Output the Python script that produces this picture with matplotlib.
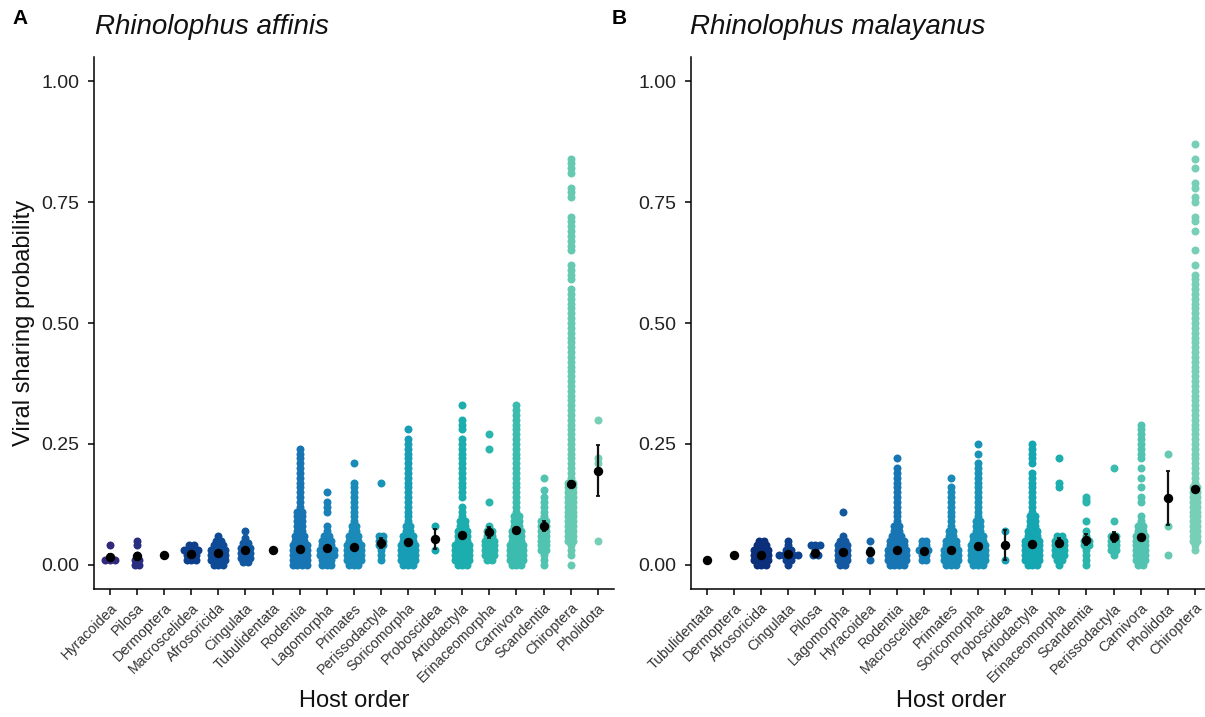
import matplotlib
matplotlib.use("Agg")
import matplotlib.pyplot as plt

# ---------------- data ----------------
affinis_orders = ["Hyracoidea", "Pilosa", "Dermoptera", "Macroscelidea", "Afrosoricida",
                  "Cingulata", "Tubulidentata", "Rodentia", "Lagomorpha", "Primates",
                  "Perissodactyla", "Soricomorpha", "Proboscidea", "Artiodactyla",
                  "Erinaceomorpha", "Carnivora", "Scandentia", "Chiroptera", "Pholidota"]
affinis_means = [0.016, 0.018, 0.02, 0.022, 0.025, 0.03, 0.03, 0.032, 0.035, 0.037,
                 0.045, 0.048, 0.054, 0.062, 0.067, 0.071, 0.08, 0.168, 0.195]
affinis_errs = [0.006, 0.007, 0.0, 0.002, 0.002, 0.003, 0.0, 0.001, 0.002, 0.002,
                0.011, 0.002, 0.021, 0.003, 0.012, 0.003, 0.01, 0.005, 0.053]

malayanus_orders = ["Tubulidentata", "Dermoptera", "Afrosoricida", "Cingulata", "Pilosa",
                    "Lagomorpha", "Hyracoidea", "Rodentia", "Macroscelidea", "Primates",
                    "Soricomorpha", "Proboscidea", "Artiodactyla", "Erinaceomorpha",
                    "Scandentia", "Perissodactyla", "Carnivora", "Pholidota", "Chiroptera"]
malayanus_means = [0.01, 0.02, 0.02, 0.022, 0.025, 0.027, 0.027, 0.03, 0.028, 0.03,
                   0.038, 0.04, 0.043, 0.046, 0.052, 0.057, 0.057, 0.138, 0.156]
malayanus_errs = [0.0, 0.0, 0.001, 0.002, 0.003, 0.003, 0.008, 0.001, 0.003, 0.002,
                  0.002, 0.031, 0.002, 0.009, 0.012, 0.01, 0.002, 0.055, 0.004]

# colour by position along the axis (dark navy -> aquamarine)
position_colors = ["#30297c", "#2a2e80", "#0c2f7c", "#0d3f8d", "#0e4a96", "#1259a2",
                   "#1566aa", "#1775b4", "#1980b8", "#1a8bb9", "#1994b8", "#179db5",
                   "#14a6b1", "#1caeae", "#2ab5ad", "#3cbcae", "#52c3b0", "#66c9b2",
                   "#76cfb6"]

# individual sharing probabilities: (value, number of dots at that value)
a_hyracoidea = [(0.04, 1), (0.01, 3)]
a_pilosa = [(0.05, 1), (0.04, 1), (0.02, 1), (0.01, 2), (0.0, 2)]
a_dermoptera = [(0.02, 1)]
a_macroscelidea = [(0.04, 2), (0.03, 4), (0.02, 3), (0.01, 3)]
a_afrosoricida = [(0.06, 1), (0.05, 2), (0.04, 3), (0.03, 4), (0.02, 4), (0.01, 4), (0.0, 3)]
a_cingulata = [(0.07, 1), (0.055, 1), (0.045, 2), (0.035, 3), (0.025, 3), (0.015, 3), (0.005, 2)]
a_tubulidentata = [(0.03, 1)]
a_rodentia = [(0.24, 1), (0.23, 1), (0.22, 1), (0.21, 1), (0.20, 1), (0.19, 1), (0.18, 1),
              (0.17, 1), (0.16, 1), (0.15, 1), (0.14, 1), (0.13, 1), (0.12, 1), (0.11, 2),
              (0.10, 2), (0.09, 2), (0.08, 2), (0.07, 2), (0.06, 3), (0.05, 3), (0.04, 4),
              (0.03, 4), (0.02, 4), (0.01, 4), (0.0, 4)]
a_lagomorpha = [(0.15, 1), (0.13, 1), (0.12, 1), (0.11, 1), (0.08, 1), (0.07, 1), (0.06, 2),
                (0.05, 3), (0.04, 3), (0.03, 4), (0.02, 4), (0.01, 3), (0.0, 3)]
a_primates = [(0.21, 1), (0.17, 1), (0.16, 1), (0.15, 1), (0.14, 1), (0.13, 1), (0.12, 1),
              (0.11, 1), (0.10, 1), (0.09, 1), (0.08, 2), (0.07, 2), (0.06, 3), (0.05, 3),
              (0.04, 4), (0.03, 4), (0.02, 4), (0.01, 4), (0.0, 3)]
a_perissodactyla = [(0.17, 1), (0.06, 2), (0.05, 2), (0.04, 2), (0.03, 1), (0.02, 1), (0.01, 1)]
a_soricomorpha = [(0.28, 1), (0.26, 1), (0.25, 1), (0.24, 1), (0.23, 1), (0.22, 1), (0.21, 1),
                  (0.20, 1), (0.19, 1), (0.18, 1), (0.17, 1), (0.16, 1), (0.15, 1), (0.14, 1),
                  (0.13, 1), (0.12, 1), (0.11, 1), (0.10, 1), (0.09, 1), (0.08, 2), (0.07, 2),
                  (0.06, 3), (0.05, 3), (0.04, 4), (0.03, 4), (0.02, 4), (0.01, 4), (0.0, 3)]
a_proboscidea = [(0.08, 1), (0.03, 1)]
a_artiodactyla = [(0.33, 1), (0.30, 1), (0.29, 1), (0.28, 1), (0.26, 1), (0.25, 1), (0.24, 1),
                  (0.23, 1), (0.22, 1), (0.21, 1), (0.20, 1), (0.19, 1), (0.18, 1), (0.17, 1),
                  (0.16, 1), (0.15, 1), (0.14, 1), (0.12, 1), (0.11, 1), (0.10, 1), (0.09, 2),
                  (0.08, 2), (0.07, 3), (0.06, 3), (0.05, 3), (0.04, 4), (0.03, 4), (0.02, 4),
                  (0.01, 4), (0.0, 3)]
a_erinaceomorpha = [(0.27, 1), (0.24, 1), (0.13, 1), (0.08, 1), (0.07, 2), (0.06, 2), (0.05, 3),
                    (0.04, 3), (0.03, 3), (0.02, 3), (0.01, 2)]
a_carnivora = [(0.33, 1), (0.32, 1), (0.31, 1), (0.30, 1), (0.29, 1), (0.28, 1), (0.27, 1),
               (0.26, 1), (0.25, 1), (0.24, 1), (0.23, 1), (0.22, 1), (0.21, 1), (0.20, 1),
               (0.19, 1), (0.18, 1), (0.17, 1), (0.16, 1), (0.15, 1), (0.14, 1), (0.13, 1),
               (0.12, 1), (0.11, 1), (0.10, 2), (0.09, 2), (0.08, 2), (0.07, 3), (0.06, 3),
               (0.05, 3), (0.04, 4), (0.03, 4), (0.02, 4), (0.01, 4), (0.0, 3)]
a_scandentia = [(0.18, 1), (0.155, 1), (0.14, 1), (0.13, 1), (0.12, 1), (0.11, 1), (0.10, 1),
                (0.09, 2), (0.08, 2), (0.07, 2), (0.06, 2), (0.05, 2), (0.04, 2), (0.03, 2),
                (0.02, 1), (0.01, 1), (0.0, 1)]
a_chiroptera = [(0.84, 1), (0.83, 1), (0.82, 1), (0.81, 1), (0.78, 1), (0.77, 1), (0.76, 1),
                (0.72, 1), (0.71, 1), (0.70, 1), (0.69, 1), (0.68, 1), (0.67, 1), (0.66, 1),
                (0.65, 1), (0.62, 1), (0.61, 1), (0.60, 1), (0.59, 1), (0.57, 1), (0.56, 1),
                (0.55, 1), (0.54, 1), (0.53, 1), (0.52, 1), (0.51, 1), (0.50, 1), (0.49, 1),
                (0.48, 1), (0.47, 1), (0.46, 1), (0.45, 1), (0.44, 1), (0.43, 1), (0.42, 1),
                (0.41, 1), (0.40, 1), (0.39, 1), (0.38, 1), (0.37, 1), (0.36, 1), (0.35, 1),
                (0.34, 1), (0.33, 1), (0.32, 1), (0.31, 1), (0.30, 1), (0.29, 1), (0.28, 1),
                (0.27, 1), (0.26, 1), (0.25, 1), (0.24, 1), (0.23, 1), (0.22, 1), (0.21, 1),
                (0.20, 1), (0.19, 1), (0.18, 1), (0.17, 2), (0.16, 2), (0.15, 2), (0.14, 2),
                (0.13, 2), (0.12, 2), (0.11, 2), (0.10, 2), (0.09, 2), (0.08, 2), (0.07, 2),
                (0.06, 2), (0.05, 2), (0.04, 1), (0.03, 1), (0.02, 1), (0.0, 1)]
a_pholidota = [(0.30, 1), (0.22, 1), (0.21, 1), (0.05, 1)]

b_tubulidentata = [(0.01, 1)]
b_dermoptera = [(0.02, 1)]
b_afrosoricida = [(0.05, 2), (0.04, 3), (0.03, 4), (0.02, 4), (0.01, 4), (0.0, 3)]
b_cingulata = [(0.05, 1), (0.04, 1), (0.03, 2), (0.02, 5), (0.01, 2), (0.0, 1)]
b_pilosa = [(0.04, 3), (0.03, 1), (0.02, 2)]
b_lagomorpha = [(0.11, 1), (0.06, 1), (0.05, 2), (0.04, 3), (0.03, 3), (0.02, 3), (0.01, 3), (0.0, 2)]
b_hyracoidea = [(0.05, 1), (0.03, 1), (0.01, 1)]
b_rodentia = [(0.22, 1), (0.20, 1), (0.19, 1), (0.18, 1), (0.17, 1), (0.16, 1), (0.15, 1),
              (0.14, 1), (0.13, 1), (0.12, 1), (0.11, 1), (0.10, 1), (0.09, 1), (0.08, 2),
              (0.07, 2), (0.06, 3), (0.05, 4), (0.04, 4), (0.03, 5), (0.02, 5), (0.01, 5), (0.0, 4)]
b_macroscelidea = [(0.05, 2), (0.04, 2), (0.03, 3), (0.02, 2), (0.01, 2)]
b_primates = [(0.18, 1), (0.16, 1), (0.15, 1), (0.14, 1), (0.13, 1), (0.12, 1), (0.11, 1),
              (0.10, 1), (0.09, 1), (0.08, 1), (0.07, 2), (0.06, 2), (0.05, 3), (0.04, 3),
              (0.03, 4), (0.02, 4), (0.01, 4), (0.0, 3)]
b_soricomorpha = [(0.25, 1), (0.23, 1), (0.21, 1), (0.20, 1), (0.19, 1), (0.18, 1), (0.17, 1),
                  (0.16, 1), (0.15, 1), (0.14, 1), (0.13, 1), (0.12, 1), (0.11, 1), (0.10, 1),
                  (0.09, 2), (0.08, 2), (0.07, 2), (0.06, 3), (0.05, 3), (0.04, 4), (0.03, 4),
                  (0.02, 4), (0.01, 4), (0.0, 3)]
b_proboscidea = [(0.07, 1), (0.04, 1), (0.01, 1)]
b_artiodactyla = [(0.25, 1), (0.24, 1), (0.23, 1), (0.22, 1), (0.21, 1), (0.19, 1), (0.18, 1),
                  (0.17, 1), (0.16, 1), (0.15, 1), (0.14, 1), (0.13, 1), (0.12, 1), (0.11, 1),
                  (0.10, 2), (0.09, 2), (0.08, 2), (0.07, 3), (0.06, 3), (0.05, 4), (0.04, 4),
                  (0.03, 4), (0.02, 4), (0.01, 4), (0.0, 3)]
b_erinaceomorpha = [(0.22, 1), (0.17, 1), (0.16, 1), (0.06, 2), (0.05, 3), (0.04, 3), (0.03, 3),
                    (0.02, 3), (0.01, 2), (0.0, 1)]
b_scandentia = [(0.14, 1), (0.135, 1), (0.13, 1), (0.09, 1), (0.07, 1), (0.06, 1), (0.05, 2),
                (0.04, 2), (0.03, 1), (0.02, 1), (0.01, 1), (0.0, 1)]
b_perissodactyla = [(0.20, 1), (0.09, 1), (0.06, 2), (0.05, 2), (0.04, 2), (0.03, 2), (0.02, 1)]
b_carnivora = [(0.29, 1), (0.28, 1), (0.27, 1), (0.26, 1), (0.25, 1), (0.24, 1), (0.23, 1),
               (0.22, 1), (0.20, 1), (0.18, 1), (0.16, 1), (0.14, 1), (0.13, 1), (0.10, 1),
               (0.09, 1), (0.08, 2), (0.07, 2), (0.06, 3), (0.05, 3), (0.04, 3), (0.03, 3),
               (0.02, 3), (0.01, 3), (0.0, 2)]
b_pholidota = [(0.23, 1), (0.08, 1), (0.02, 1)]
b_chiroptera = [(0.87, 1), (0.84, 1), (0.82, 1), (0.79, 1), (0.78, 1), (0.76, 1), (0.75, 1),
                (0.72, 1), (0.71, 1), (0.69, 1), (0.65, 1), (0.62, 1), (0.60, 1), (0.59, 1),
                (0.58, 1), (0.57, 1), (0.56, 1), (0.55, 1), (0.54, 1), (0.53, 1), (0.52, 1),
                (0.51, 1), (0.50, 1), (0.49, 1), (0.48, 1), (0.47, 1), (0.46, 1), (0.45, 1),
                (0.44, 1), (0.43, 1), (0.42, 1), (0.41, 1), (0.40, 1), (0.39, 1), (0.38, 1),
                (0.37, 1), (0.36, 1), (0.35, 1), (0.34, 1), (0.33, 1), (0.32, 1), (0.31, 1),
                (0.30, 1), (0.29, 1), (0.28, 1), (0.27, 1), (0.26, 1), (0.25, 1), (0.24, 1),
                (0.23, 1), (0.22, 1), (0.21, 1), (0.20, 1), (0.19, 1), (0.18, 1), (0.17, 1),
                (0.16, 2), (0.15, 2), (0.14, 2), (0.13, 2), (0.12, 2), (0.11, 2), (0.10, 2),
                (0.09, 2), (0.08, 2), (0.07, 2), (0.06, 2), (0.05, 2), (0.04, 1), (0.03, 1)]

affinis_points = [a_hyracoidea, a_pilosa, a_dermoptera, a_macroscelidea, a_afrosoricida,
                  a_cingulata, a_tubulidentata, a_rodentia, a_lagomorpha, a_primates,
                  a_perissodactyla, a_soricomorpha, a_proboscidea, a_artiodactyla,
                  a_erinaceomorpha, a_carnivora, a_scandentia, a_chiroptera, a_pholidota]
malayanus_points = [b_tubulidentata, b_dermoptera, b_afrosoricida, b_cingulata, b_pilosa,
                    b_lagomorpha, b_hyracoidea, b_rodentia, b_macroscelidea, b_primates,
                    b_soricomorpha, b_proboscidea, b_artiodactyla, b_erinaceomorpha,
                    b_scandentia, b_perissodactyla, b_carnivora, b_pholidota, b_chiroptera]

# ---------------- style ----------------
plt.rcParams['font.family'] = ['Liberation Sans', 'DejaVu Sans']
W, H, DPI = 1205, 717, 100
fig = plt.figure(figsize=(W / DPI, H / DPI), dpi=DPI)

ax_w = 0.4318
ax_b, ax_h = 0.1785, 0.742
XLIM = (-0.6, 18.6)
DOT_GAP_PX = 4.6
gap = DOT_GAP_PX * (XLIM[1] - XLIM[0]) / (W * ax_w)


def draw_panel(ax, orders, points, means, errs):
    for i, rows in enumerate(points):
        xs, ys = [], []
        for v, n in rows:
            for k in range(n):
                xs.append(i + (k - (n - 1) / 2) * gap)
                ys.append(v)
        ax.scatter(xs, ys, s=33, color=position_colors[i], linewidths=0, zorder=2)
    xi = list(range(len(orders)))
    ax.errorbar(xi, means, yerr=errs, fmt='none', ecolor='#111111', elinewidth=1.6,
                capsize=1.5, capthick=1.3, zorder=3)
    ax.scatter(xi, means, s=46, color='black', linewidths=0, zorder=4)
    ax.set_xlim(*XLIM)
    ax.set_ylim(-0.05, 1.05)
    ax.set_xticks(xi)
    ax.set_xticklabels(orders, rotation=45, ha='right', rotation_mode='anchor',
                       fontsize=10.3, color='#333333')
    ax.set_yticks([0, 0.25, 0.5, 0.75, 1.0])
    ax.set_yticklabels(["0.00", "0.25", "0.50", "0.75", "1.00"], fontsize=14, color='#222222')
    for s in ['top', 'right']:
        ax.spines[s].set_visible(False)
    for s in ['left', 'bottom']:
        ax.spines[s].set_linewidth(1.1)
    ax.tick_params(axis='both', length=4.5, width=1.1, color='black')
    ax.tick_params(axis='x', pad=4)
    ax.tick_params(axis='y', pad=6)
    ax.set_xlabel("Host order", fontsize=17, color='#111111')
    ax.xaxis.set_label_coords(0.5, -0.19)


axA = fig.add_axes([93.7 / W, ax_b, ax_w, ax_h])
draw_panel(axA, affinis_orders, affinis_points, affinis_means, affinis_errs)
axA.set_ylabel("Viral sharing probability", fontsize=17, color='#111111')
axA.yaxis.set_label_coords(-0.113, 0.5)

axB = fig.add_axes([690.8 / W, ax_b, ax_w, ax_h])
draw_panel(axB, malayanus_orders, malayanus_points, malayanus_means, malayanus_errs)

fig.text(20 / W, 1 - 18 / H, "A", fontsize=15, fontweight='bold', ha='center', va='center')
fig.text(619 / W, 1 - 18 / H, "B", fontsize=15, fontweight='bold', ha='center', va='center')
fig.text(95 / W, 1 - 27 / H, "Rhinolophus affinis", fontsize=20, style='italic',
         ha='left', va='center', color='#111111')
fig.text(690 / W, 1 - 27 / H, "Rhinolophus malayanus", fontsize=20, style='italic',
         ha='left', va='center', color='#111111')

fig.savefig("out.png", dpi=DPI)
